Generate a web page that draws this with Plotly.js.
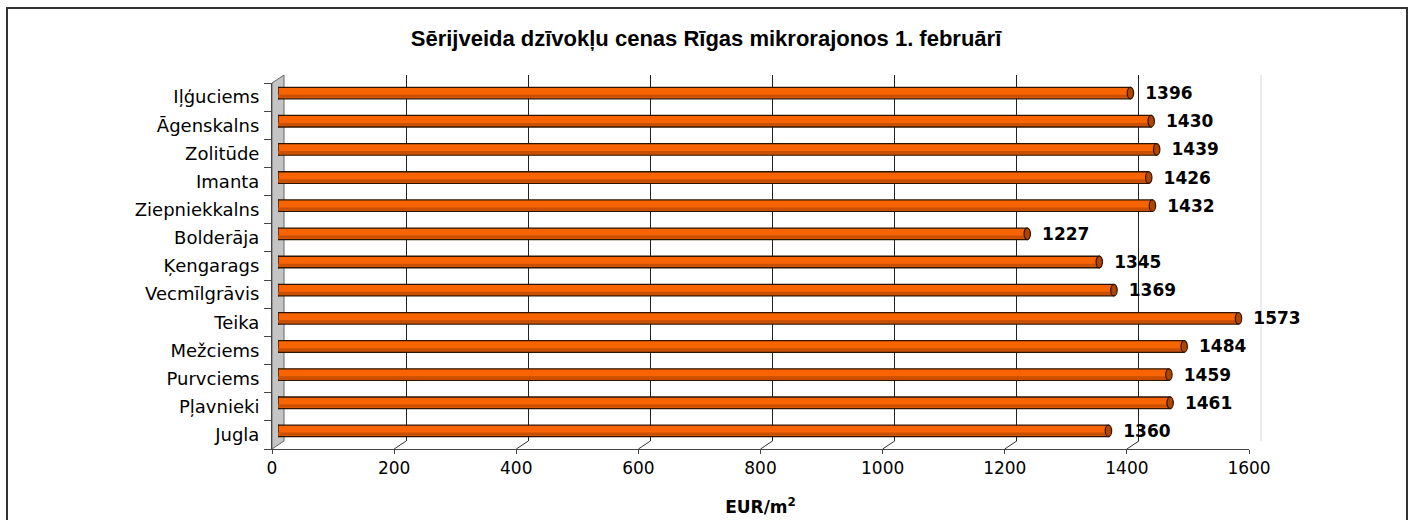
<!DOCTYPE html>
<html>
<head>
<meta charset="utf-8">
<script src="https://cdn.plot.ly/plotly-3.0.1.min.js"></script>
<style>
html,body{margin:0;padding:0;background:#fff;}
#chart{width:1413px;height:520px;}
</style>
</head>
<body>
<div id="chart"></div>
<script>
// ---- data ----
const categories = ["Iļģuciems","Āgenskalns","Zolitūde","Imanta","Ziepniekkalns","Bolderāja","Ķengarags","Vecmīlgrāvis","Teika","Mežciems","Purvciems","Pļavnieki","Jugla"];
const prices = [1396,1430,1439,1426,1432,1227,1345,1369,1573,1484,1459,1461,1360];
const xTickValues = [0,200,400,600,800,1000,1200,1400,1600];
const chartTitle = "Sērijveida dzīvokļu cenas Rīgas mikrorajonos 1. februārī";
const axisTitle = "EUR/m<sup>2</sup>";

// ---- geometry (pixels) ----
const W = 1413, H = 520;
const px = v => v / W;
const py = v => 1 - v / H;
const front = {x0: 272, x1: 1249, y0: 83, y1: 449};
const depthX = 12, depthY = 8;
const xRange = [0, 1600];

const idx = categories.map((_, i) => i);
const bounds = [-0.5].concat(idx.map(i => i + 0.5));

const barWidth = 0.41;
const traces = [
  {
    type: 'bar', orientation: 'h',
    x: prices, y: categories,
    xaxis: 'x3', yaxis: 'y3',
    width: barWidth,
    marker: {color: '#F86500', line: {color: '#2e1400', width: 1.3}},
    text: prices.map(String),
    texttemplate: '  %{text}',
    textposition: 'outside',
    constraintext: 'none',
    cliponaxis: false,
    textfont: {family: 'DejaVu Sans', size: 17, color: '#000', weight: 'bold'},
    hoverinfo: 'x+y'
  },
  // darker lower band of the cylinder (shading only)
  {
    type: 'bar', orientation: 'h',
    x: prices, y: categories,
    xaxis: 'x3', yaxis: 'y3',
    width: 0.11, offset: 0.06,
    marker: {color: '#C95000', line: {width: 0}},
    hoverinfo: 'skip'
  },
  {type: 'scatter', x: [], y: [], xaxis: 'x2', yaxis: 'y2', showlegend: false},
  {type: 'scatter', x: [], y: [], xaxis: 'x', yaxis: 'y', showlegend: false}
];

const shapes = [];
// outer border
shapes.push({type: 'rect', xref: 'paper', yref: 'paper', x0: px(7), x1: px(1407), y0: py(530), y1: py(8),
  line: {color: '#333', width: 2}, fillcolor: 'rgba(0,0,0,0)', layer: 'below'});
// left wall (grey)
shapes.push({type: 'path', xref: 'paper', yref: 'paper', layer: 'below',
  path: `M ${px(front.x0)},${py(front.y0)} L ${px(front.x0 + depthX)},${py(front.y0 - depthY)} L ${px(front.x0 + depthX)},${py(front.y1 - depthY)} L ${px(front.x0)},${py(front.y1)} Z`,
  fillcolor: '#c4c4c4', line: {color: '#666', width: 1}});
// back wall right edge
shapes.push({type: 'line', xref: 'paper', yref: 'paper', layer: 'below',
  x0: px(front.x1 + depthX), x1: px(front.x1 + depthX), y0: py(front.y0 - depthY), y1: py(front.y1 - depthY),
  line: {color: '#d8d8d8', width: 1}});
// floor depth lines from front ticks to back grid
xTickValues.forEach(v => {
  if (v === 0) return;
  const last = v === xTickValues[xTickValues.length - 1];
  shapes.push({type: 'line', xref: 'x', yref: 'paper', xsizemode: 'pixel', ysizemode: 'pixel',
    xanchor: v, yanchor: py(front.y1), x0: 0, x1: depthX, y0: 0, y1: depthY, layer: 'below',
    line: {color: last ? '#c8c8c8' : '#333', width: 1, dash: last ? 'dot' : 'solid'}});
});
// cylinder end caps (left cap behind the bar, right cap on top)
categories.forEach((c, i) => {
  shapes.push({type: 'circle', xref: 'x3', yref: 'y3', xsizemode: 'pixel', ysizemode: 'pixel',
    xanchor: 0, yanchor: i, x0: -3.2, x1: 3.2, y0: -5.8, y1: 5.8, layer: 'between',
    fillcolor: '#F86500', line: {color: '#2e1400', width: 1.2}});
  shapes.push({type: 'circle', xref: 'x3', yref: 'y3', xsizemode: 'pixel', ysizemode: 'pixel',
    xanchor: prices[i], yanchor: i, x0: -3.2, x1: 3.2, y0: -5.8, y1: 5.8,
    fillcolor: '#B04500', line: {color: '#2e1400', width: 1.2}});
});

const layout = {
  width: W, height: H,
  margin: {l: 0, r: 0, t: 0, b: 0},
  paper_bgcolor: '#fff', plot_bgcolor: 'rgba(0,0,0,0)',
  showlegend: false,
  barmode: 'overlay',
  title: {text: '<b>' + chartTitle + '</b>', x: px(706), xref: 'paper', xanchor: 'center',
    y: py(38), yref: 'paper', yanchor: 'middle',
    font: {family: 'Liberation Sans', size: 22, color: '#000'}},
  // front axes (ticks + labels)
  xaxis: {domain: [px(front.x0), px(front.x1)], range: xRange, anchor: 'y',
    tickvals: xTickValues, ticks: 'outside', ticklen: 4, tickcolor: '#444',
    showline: true, linecolor: '#444', linewidth: 1, showgrid: false, zeroline: false,
    tickfont: {family: 'DejaVu Sans', size: 17, color: '#000'},
    title: {text: axisTitle, standoff: 23, font: {family: 'DejaVu Sans', size: 17, color: '#000', weight: 'bold'}},
    automargin: false},
  yaxis: {domain: [py(front.y1), py(front.y0)], range: [categories.length - 0.5, -0.5], anchor: 'x',
    tickvals: idx, ticktext: categories, ticks: '', showline: true, linecolor: '#444', linewidth: 1,
    showgrid: false, zeroline: false, ticklabelstandoff: 8,
    minor: {tickvals: bounds, ticks: 'outside', ticklen: 7, tickcolor: '#444', showgrid: false},
    tickfont: {family: 'DejaVu Sans', size: 18, color: '#000'}, automargin: false},
  // back wall (gridlines)
  xaxis2: {domain: [px(front.x0 + depthX), px(front.x1 + depthX)], range: xRange, anchor: 'y2',
    tickvals: xTickValues.slice(1, -1), showticklabels: false, ticks: '', showgrid: true,
    gridcolor: '#222', gridwidth: 1, zeroline: false, showline: false},
  yaxis2: {domain: [py(front.y1 - depthY), py(front.y0 - depthY)], range: [0, 1], anchor: 'x2',
    visible: false, showgrid: false, zeroline: false},
  // middle depth (bars)
  xaxis3: {domain: [px(front.x0 + depthX / 2), px(front.x1 + depthX / 2)], range: xRange, anchor: 'y3',
    visible: false, showgrid: false, zeroline: false},
  yaxis3: {domain: [py(front.y1 - depthY / 2), py(front.y0 - depthY / 2)], type: 'category',
    categoryorder: 'array', categoryarray: categories, autorange: 'reversed', anchor: 'x3',
    visible: false, showgrid: false, zeroline: false},
  shapes: shapes
};

Plotly.newPlot('chart', traces, layout, {staticPlot: true, displayModeBar: false});
</script>
</body>
</html>
